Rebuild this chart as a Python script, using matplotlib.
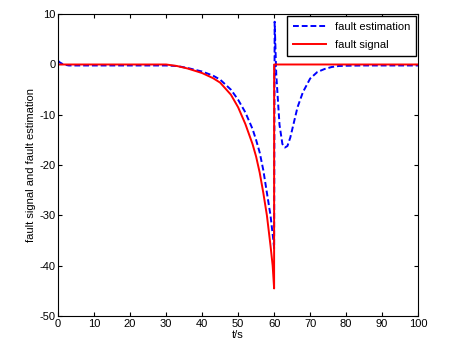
import matplotlib
matplotlib.use("Agg")
import matplotlib.pyplot as plt

plt.rcParams['font.family'] = ['Liberation Sans', 'DejaVu Sans']
plt.rcParams['axes.unicode_minus'] = False

# fault signal (red)
t_sig = [0, 30, 33, 36, 40, 43, 45, 48, 50, 52, 54, 55, 56, 57, 58, 59, 59.6, 60, 60.01, 100]
f_sig = [0, 0, -0.3, -0.8, -1.7, -2.7, -3.6, -6.0, -8.5, -11.8, -15.8, -18.3, -21.5, -25.5, -30, -36, -40, -44.5, 0, 0]

# fault estimation (blue dashed)
t_est = [0, 0.5, 1.5, 3, 30, 33, 36, 40, 43, 45, 48, 50, 52, 54, 55, 56, 57, 58, 59, 59.8, 60.0,
         60.15, 60.6, 61.5, 62.3, 63, 63.7, 64.5, 65.5, 66.5, 68, 70, 72, 74, 76, 78, 80, 85, 100]
f_est = [0.7, 0.4, 0.0, -0.2, -0.2, -0.3, -0.7, -1.4, -2.2, -3.0, -5.0, -7.0, -9.5, -12.8, -15.0, -17.5, -21, -25.5, -30, -35, -36.5,
         8.5, -2, -12, -15.8, -16.5, -16.2, -14.5, -11.5, -8.5, -5.5, -2.8, -1.5, -0.9, -0.5, -0.3, -0.25, -0.2, -0.2]

fig = plt.figure(figsize=(4.61, 3.54), dpi=100)
ax = fig.add_axes([0.126, 0.107, 0.781, 0.853])

ax.plot(t_est, f_est, color='blue', linestyle=(0, (3, 1.5)), linewidth=1.4, label='fault estimation')
ax.plot(t_sig, f_sig, color='red', linewidth=1.4, label='fault signal')

ax.set_xlim(0, 100)
ax.set_ylim(-50, 10)
ax.set_xticks(range(0, 101, 10))
ax.set_yticks(range(-50, 11, 10))
ax.tick_params(direction='in', top=True, right=True, labelsize=8, length=3, pad=2)
ax.set_xlabel('t/s', fontsize=8, labelpad=1)
ax.set_ylabel('fault signal and fault estimation', fontsize=8, labelpad=2)

leg = ax.legend(loc='upper right', fontsize=8, fancybox=False, framealpha=1,
                edgecolor='black', borderaxespad=0.15, handlelength=3,
                labelspacing=0.75, borderpad=0.55)
leg.get_frame().set_linewidth(1.0)

fig.savefig('out.png', dpi=100)
